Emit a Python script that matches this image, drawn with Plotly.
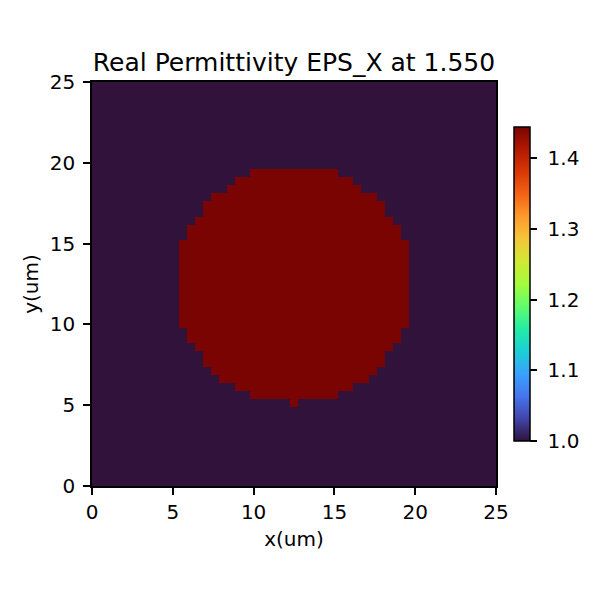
import plotly.graph_objects as go

# Grid: 51 x 51 cells spanning 0..25 um
n_cells = 51
extent_um = 25.0
background_value = 1.0
core_value = 1.444

# Rows (from bottom) that contain the core, with first and last core column
core_rows = list(range(10, 40))
core_first_col = [25, 20, 18, 16, 15, 14, 14, 13, 12, 12,
                  11, 11, 11, 11, 11, 11, 11, 11, 11, 11, 11,
                  12, 12, 13, 14, 14, 15, 17, 18, 20]
core_last_col = [25, 30, 32, 34, 35, 36, 36, 37, 38, 38,
                 39, 39, 39, 39, 39, 39, 39, 39, 39, 39, 39,
                 38, 38, 37, 36, 36, 35, 33, 32, 30]

colorbar_ticks = [1.0, 1.1, 1.2, 1.3, 1.4]
axis_ticks = [0, 5, 10, 15, 20, 25]

cell = extent_um / n_cells
centers = [(k + 0.5) * cell for k in range(n_cells)]
z = [[background_value] * n_cells for _ in range(n_cells)]
for r, a, b in zip(core_rows, core_first_col, core_last_col):
    for c in range(a, b + 1):
        z[r][c] = core_value

font = "DejaVu Sans"
fs = 20
fig = go.Figure(go.Heatmap(
    x=centers, y=centers, z=z,
    colorscale="Turbo", zmin=1.0, zmax=core_value,
    colorbar=dict(
        x=1.042, xanchor="left", xpad=0, y=0.5, yanchor="middle", ypad=0,
        len=0.777, lenmode="fraction", thickness=16, thicknessmode="pixels",
        outlinecolor="black", outlinewidth=1.5,
        tickvals=colorbar_ticks, ticktext=["\u00a0" + f"{v:.1f}" for v in colorbar_ticks],
        ticks="outside", ticklen=7, tickcolor="black", tickwidth=1.5,
        tickfont=dict(family=font, size=fs, color="black"),
    ),
    hoverinfo="skip",
))

axis_common = dict(
    range=[0, 25], tickvals=axis_ticks,
    ticks="outside", ticklen=7, tickcolor="black", tickwidth=1.5,
    showline=True, linecolor="black", linewidth=1.5, mirror=True,
    showgrid=False, zeroline=False,
    tickfont=dict(family=font, size=fs, color="black"),
)

W = H = 584
fig.update_layout(
    width=W, height=H,
    margin=dict(l=84, r=95, t=74, b=106),
    paper_bgcolor="white", plot_bgcolor="white",
    title=dict(text="Real Permittivity EPS_X at 1.550", x=0.5, xref="paper",
               xanchor="center", y=1 - 54 / H, yref="container", yanchor="middle",
               font=dict(family=font, size=25, color="black")),
    xaxis=dict(axis_common, ticktext=[str(v) for v in axis_ticks],
               title=dict(text="x(um)", standoff=9,
                          font=dict(family=font, size=fs, color="black"))),
    yaxis=dict(axis_common, ticktext=[f"{v}\u2009" for v in axis_ticks],
               title=dict(text="y(um)", standoff=6,
                          font=dict(family=font, size=fs, color="black"))),
)

fig.write_html("out.html")
